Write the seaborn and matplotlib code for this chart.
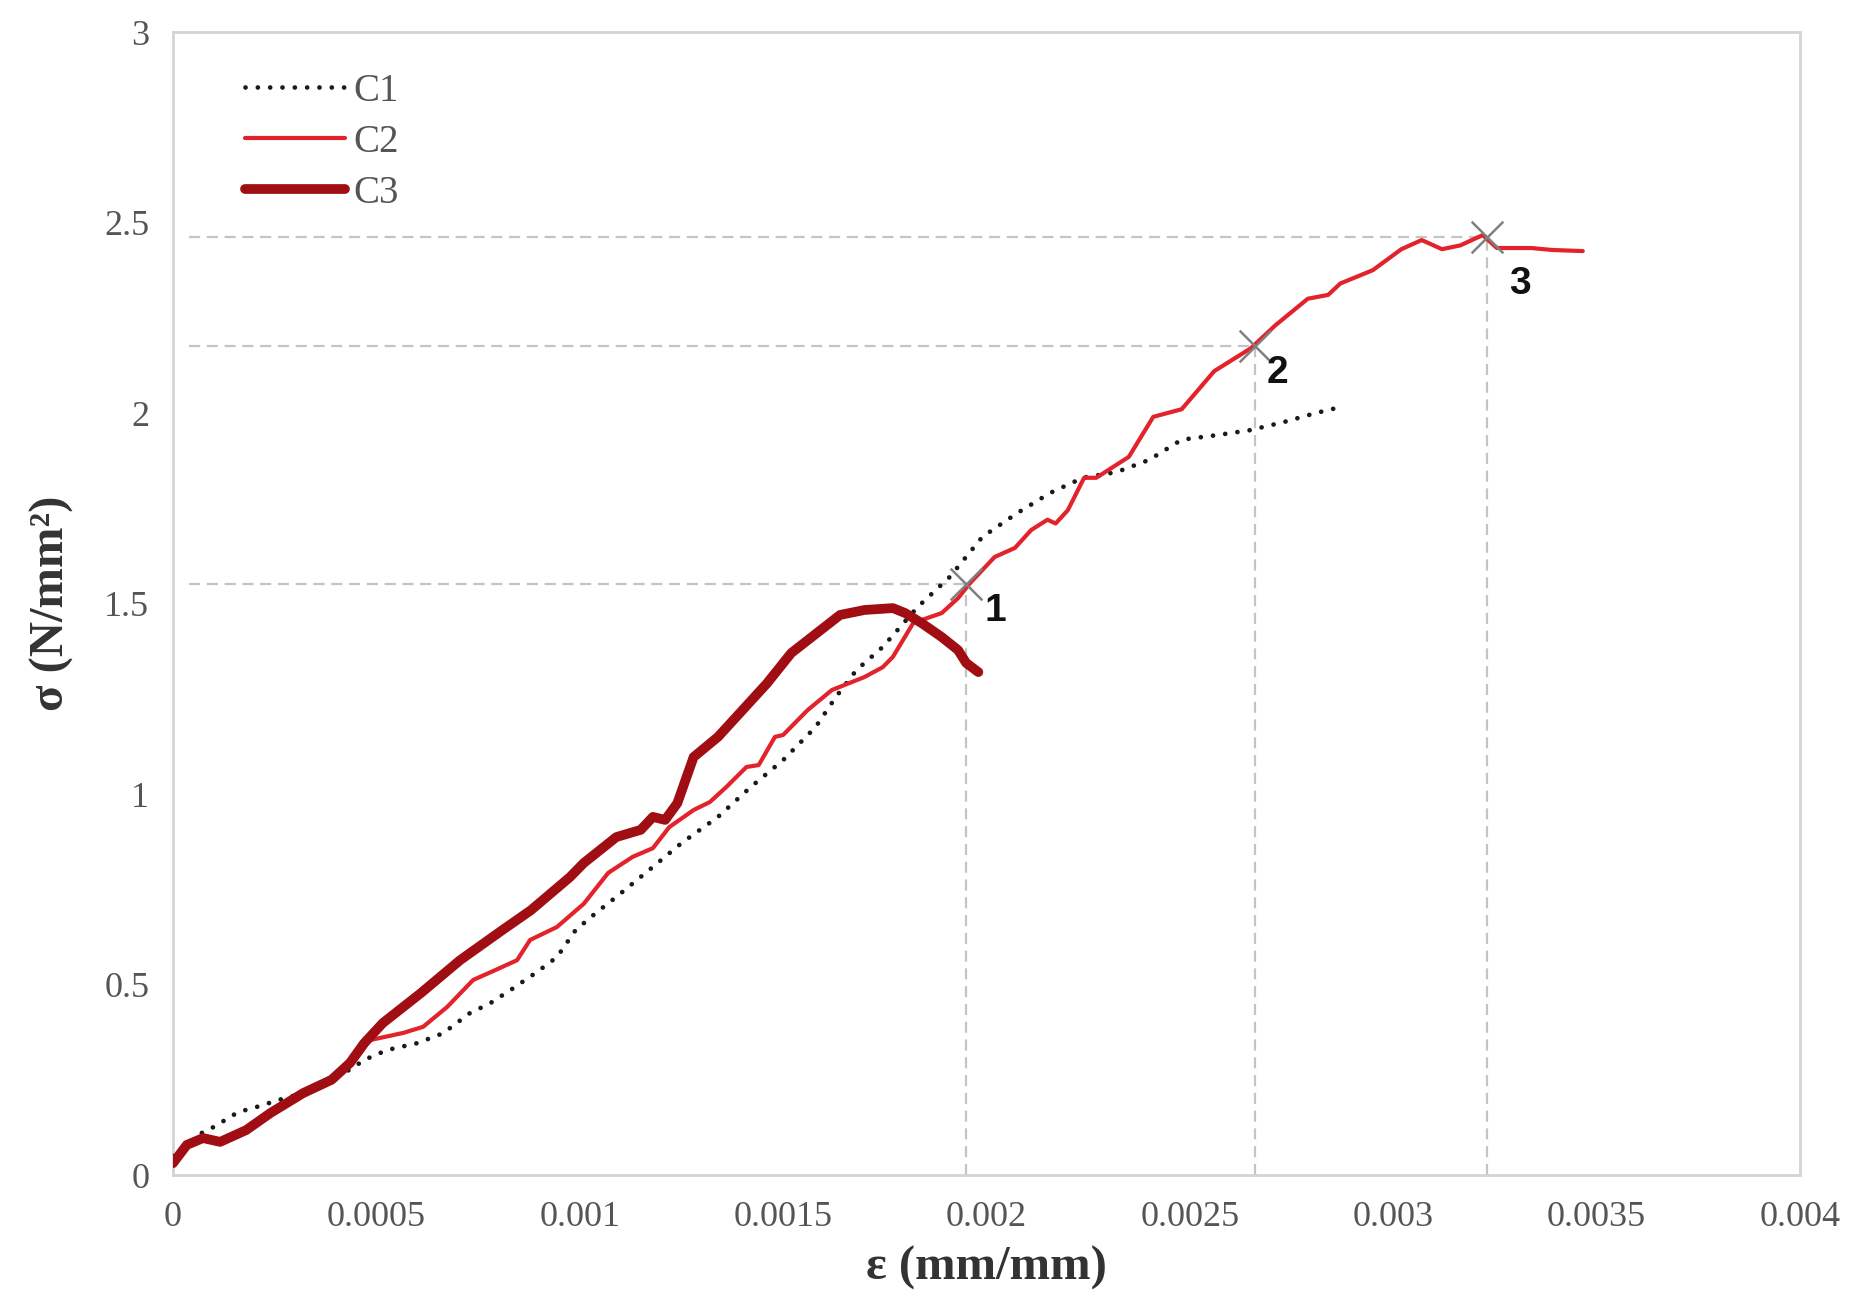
import numpy as np
import pandas as pd
import matplotlib
matplotlib.use("Agg")
import matplotlib.pyplot as plt
import seaborn as sns

# ---------------- data ----------------
c1_eps = [0, 0.00007, 0.0001, 0.00016, 0.00021, 0.00026, 0.00032, 0.00039, 0.00044, 0.00047,
          0.000526, 0.0006, 0.000664, 0.00073, 0.00078, 0.000836, 0.000895, 0.000944, 0.00099,
          0.00104, 0.00109, 0.00117, 0.00125, 0.00134, 0.00142, 0.0015, 0.00158, 0.00163,
          0.00168, 0.001745, 0.00183, 0.00191, 0.00199, 0.002075, 0.002156, 0.002237, 0.00232,
          0.0024, 0.00248, 0.002567, 0.002648, 0.00273, 0.00281, 0.00286]
c1_sig = [0.05, 0.11, 0.126, 0.165, 0.18, 0.197, 0.215, 0.25, 0.28, 0.302,
          0.328, 0.346, 0.372, 0.425, 0.451, 0.49, 0.533, 0.572, 0.643,
          0.688, 0.73, 0.80, 0.871, 0.94, 1.018, 1.089, 1.176, 1.255,
          1.325, 1.386, 1.49, 1.57, 1.675, 1.737, 1.79, 1.83, 1.845,
          1.877, 1.93, 1.942, 1.955, 1.976, 2.0, 2.013]

c2_eps = [0, 0.00003, 0.00007, 0.00012, 0.00018, 0.00024, 0.00032, 0.00039, 0.00044, 0.000484,
          0.000566, 0.000615, 0.000674, 0.000738, 0.000797, 0.000846, 0.000878, 0.000944,
          0.00101, 0.00107, 0.00113, 0.00118, 0.00122, 0.00128, 0.00132, 0.00136, 0.00141,
          0.00144, 0.00148, 0.0015, 0.00156, 0.00162, 0.0017, 0.001745, 0.00177, 0.00182,
          0.00189, 0.00193, 0.00196, 0.00202, 0.00207, 0.00211, 0.00215, 0.00217, 0.0022,
          0.00224, 0.00227, 0.00235, 0.00241, 0.00248, 0.00256, 0.00265, 0.00271, 0.00279,
          0.00284, 0.00287, 0.00295, 0.00302, 0.00307, 0.00312, 0.003165, 0.00322, 0.003255,
          0.00334, 0.00339, 0.003466]
c2_sig = [0.03, 0.075, 0.095, 0.09, 0.12, 0.165, 0.215, 0.25, 0.29, 0.354,
          0.373, 0.389, 0.441, 0.512, 0.54, 0.564, 0.617, 0.651,
          0.712, 0.793, 0.835, 0.858, 0.913, 0.958, 0.979, 1.018, 1.071,
          1.076, 1.15, 1.155, 1.22, 1.273, 1.307, 1.333, 1.36, 1.449,
          1.475, 1.514, 1.554, 1.622, 1.646, 1.693, 1.72, 1.71, 1.745,
          1.83, 1.83, 1.885, 1.99, 2.01, 2.11, 2.17, 2.23, 2.30,
          2.31, 2.34, 2.375, 2.43, 2.454, 2.43, 2.44, 2.467, 2.433,
          2.433, 2.428, 2.425]

c3_eps = [0, 0.000034, 0.000074, 0.000116, 0.00018, 0.00024, 0.00032, 0.00039, 0.000435,
          0.00047, 0.000516, 0.00061, 0.000706, 0.00081, 0.00088, 0.000976, 0.00101, 0.00109,
          0.00115, 0.00118, 0.00121, 0.00124, 0.00128, 0.00134, 0.0014, 0.00146, 0.00152,
          0.00158, 0.00164, 0.0017, 0.00177, 0.0018, 0.00184, 0.00189, 0.00193, 0.00195, 0.00198]
c3_sig = [0.031, 0.079, 0.097, 0.087, 0.118, 0.163, 0.215, 0.25, 0.294,
          0.346, 0.399, 0.478, 0.564, 0.643, 0.695, 0.782, 0.819, 0.887,
          0.906, 0.94, 0.932, 0.976, 1.097, 1.15, 1.22, 1.29, 1.37,
          1.42, 1.47, 1.483, 1.488, 1.475, 1.449, 1.412, 1.378, 1.344, 1.32]

pt_eps = [0.00195, 0.00266, 0.00323]
pt_sig = [1.55, 2.175, 2.463]
pt_labels = ["1", "2", "3"]

x_ticks = [0, 0.0005, 0.001, 0.0015, 0.002, 0.0025, 0.003, 0.0035, 0.004]
x_ticklabels = ["0", "0.0005", "0.001", "0.0015", "0.002", "0.0025", "0.003", "0.0035", "0.004"]
y_ticks = [0, 0.5, 1, 1.5, 2, 2.5, 3]
y_ticklabels = ["0", "0.5", "1", "1.5", "2", "2.5", "3"]

# ---------------- style ----------------
sns.set_style("white")
plt.rcParams["font.family"] = ["Liberation Serif", "DejaVu Serif"]

fig = plt.figure(figsize=(18.74, 13.12), dpi=100)
ax = fig.add_axes([0.0923, 0.1044, 0.8682, 0.8712])

# guide lines
grey_dash = "#c4c4c4"
ax.hlines(pt_sig, 0.00004, pt_eps, colors=grey_dash, linestyles=(0, (5, 3)), linewidth=1.6, zorder=1)
ax.vlines(pt_eps, 0, pt_sig, colors=grey_dash, linestyles=(0, (5, 3)), linewidth=1.6, zorder=1)

df1 = pd.DataFrame({"eps": c1_eps, "sig": c1_sig})
df2 = pd.DataFrame({"eps": c2_eps, "sig": c2_sig})
df3 = pd.DataFrame({"eps": c3_eps, "sig": c3_sig})

sns.lineplot(data=df1, x="eps", y="sig", sort=False, estimator=None, ax=ax,
             color="#1a1a1a", linewidth=3.4, linestyle=(0, (0.01, 2.6)),
             dash_capstyle="round", label="C1", zorder=3)
sns.lineplot(data=df2, x="eps", y="sig", sort=False, estimator=None, ax=ax,
             color="#e3232c", linewidth=3.0, label="C2", zorder=4)
sns.lineplot(data=df3, x="eps", y="sig", sort=False, estimator=None, ax=ax,
             color="#a00d12", linewidth=7.0, solid_capstyle="round", label="C3", zorder=5)

# markers and labels
ax.scatter(pt_eps, pt_sig, marker="x", s=520, color="#808080", linewidths=1.8, zorder=6)
offsets = [(21, -19), (16, -19), (24, -34)]
for xe, ys, lab, off in zip(pt_eps, pt_sig, pt_labels, offsets):
    ax.annotate(lab, (xe, ys), xytext=off, textcoords="offset points",
                ha="center", va="center", fontsize=28, fontweight="bold",
                family=["Liberation Sans", "DejaVu Sans"], color="#111111", zorder=7)

ax.set_xlim(0, 0.004)
ax.set_ylim(0, 3)
ax.set_xticks(x_ticks)
ax.set_xticklabels(x_ticklabels)
ax.set_yticks(y_ticks)
ax.set_yticklabels(y_ticklabels)
ax.tick_params(axis="both", labelsize=26, colors="#bbbbbb",
               length=7, width=1.2, direction="out")
ax.tick_params(axis="x", pad=12)
ax.tick_params(axis="y", pad=10)
for lab in ax.get_xticklabels() + ax.get_yticklabels():
    lab.set_color("#555555")

for s in ax.spines.values():
    s.set_color("#d4d4d4")
    s.set_linewidth(2.0)

ax.set_xlabel("ε (mm/mm)", fontsize=35, fontweight="bold", color="#333333", labelpad=8)
ax.set_ylabel("σ (N/mm²)", fontsize=35, fontweight="bold", color="#333333", labelpad=22)

leg = ax.legend(loc="upper left", bbox_to_anchor=(0.035, 0.978), frameon=False,
                fontsize=28, handlelength=2.55, handletextpad=0.22, labelspacing=0.36,
                borderaxespad=0)
for t in leg.get_texts():
    t.set_color("#555555")

fig.savefig("out.png", dpi=100, facecolor="white")
